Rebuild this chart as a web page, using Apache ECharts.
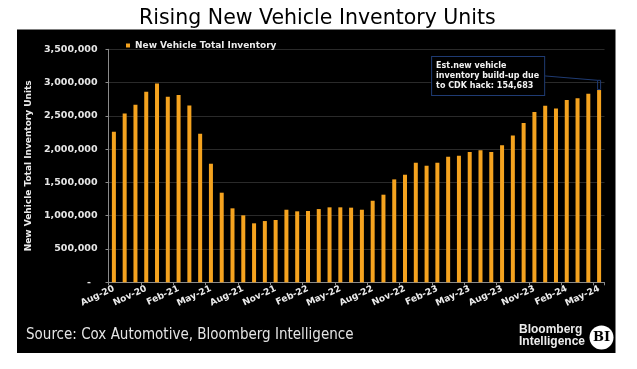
<!DOCTYPE html>
<html>
<head>
<meta charset="utf-8">
<script src="https://cdn.jsdelivr.net/npm/echarts@6/dist/echarts.min.js"></script>
<style>html,body{margin:0;padding:0;background:#fff;}#c{width:637px;height:369px;}</style>
</head>
<body>
<div id="c"></div>
<script>
var categories = ['Aug-20','Sep-20','Oct-20','Nov-20','Dec-20','Jan-21','Feb-21','Mar-21','Apr-21','May-21','Jun-21','Jul-21',
  'Aug-21','Sep-21','Oct-21','Nov-21','Dec-21','Jan-22','Feb-22','Mar-22','Apr-22','May-22','Jun-22','Jul-22',
  'Aug-22','Sep-22','Oct-22','Nov-22','Dec-22','Jan-23','Feb-23','Mar-23','Apr-23','May-23','Jun-23','Jul-23',
  'Aug-23','Sep-23','Oct-23','Nov-23','Dec-23','Jan-24','Feb-24','Mar-24','Apr-24','May-24'];
var inventory = [2261000,2537000,2667000,2862000,2988000,2787000,2812000,2657000,2232000,1781000,1346000,1111000,
  1006000,886000,920000,936000,1090000,1066000,1071000,1100000,1126000,1126000,1121000,1090000,
  1225000,1316000,1546000,1616000,1796000,1751000,1796000,1886000,1901000,1957000,1982000,1957000,
  2057000,2207000,2392000,2557000,2652000,2612000,2737000,2763000,2832000,2887000];
var buildUpValue = 154683;
var buildUp = categories.map(function (c, i) { return i === categories.length - 1 ? buildUpValue : null; });
var yTicks = { min: 0, max: 3500000, interval: 500000 };

var bold = 'bold';
var chart = echarts.init(document.getElementById('c'), null, { renderer: 'canvas' });
chart.setOption({
  backgroundColor: '#fff',
  animation: false,
  title: {
    text: 'Rising New Vehicle Inventory Units',
    left: 134, top: 3,
    textStyle: { fontFamily: 'DejaVu Sans', fontWeight: 'normal', fontSize: 20.5, color: '#000' }
  },
  graphic: [
    { type: 'rect', z: -10, silent: true, shape: { x: 17, y: 29.5, width: 598.5, height: 323.5 }, style: { fill: '#000' } },
    { type: 'text', left: 26, top: 328, style: { text: 'Source: Cox Automotive, Bloomberg Intelligence', fill: '#e4e4e4', font: '15px "DejaVu Sans Condensed"' } },
    { type: 'text', left: 519, top: 324, style: { text: 'Bloomberg', fill: '#ececec', font: 'bold 12px "Liberation Sans"' } },
    { type: 'text', left: 519, top: 336, style: { text: 'Intelligence', fill: '#ececec', font: 'bold 12px "Liberation Sans"' } },
    { type: 'circle', shape: { cx: 601.5, cy: 337.5, r: 12 }, style: { fill: '#fff' } },
    { type: 'text', x: 601.5, y: 338, style: { text: 'BI', fill: '#000', font: 'bold 13px "DejaVu Serif"', align: 'center', verticalAlign: 'middle' } }
  ],
  legend: {
    data: ['New Vehicle Total Inventory'],
    left: 121, top: 36,
    icon: 'rect', itemWidth: 4, itemHeight: 4,
    textStyle: { color: '#ececec', fontFamily: 'DejaVu Sans', fontWeight: bold, fontSize: 9 }
  },
  grid: { left: 108.5, right: 32.5, top: 49.3, bottom: 86.7, containLabel: false },
  xAxis: {
    type: 'category',
    data: categories,
    axisLine: { lineStyle: { color: '#8a8a8a', width: 1 } },
    axisTick: { show: true, interval: 2, length: 3, lineStyle: { color: '#8a8a8a' } },
    axisLabel: { interval: 2, rotate: 25, margin: 6, color: '#ececec', fontFamily: 'DejaVu Sans', fontWeight: bold, fontSize: 9 },
    splitLine: { show: false }
  },
  yAxis: {
    type: 'value',
    min: yTicks.min, max: yTicks.max, interval: yTicks.interval,
    name: 'New Vehicle Total Inventory Units',
    nameLocation: 'middle', nameGap: 69,
    nameTextStyle: { color: '#ececec', fontFamily: 'DejaVu Sans', fontWeight: bold, fontSize: 9 },
    axisLine: { show: true, lineStyle: { color: '#8a8a8a', width: 1 } },
    axisTick: { show: true, length: 3, lineStyle: { color: '#8a8a8a' } },
    axisLabel: {
      margin: 11, color: '#e6e6e6', fontFamily: 'DejaVu Sans', fontWeight: bold, fontSize: 9.5,
      formatter: function (v) { return v === 0 ? '-  ' : v.toLocaleString('en-US'); }
    },
    splitLine: { show: true, lineStyle: { color: '#2a2a2a', width: 1 } }
  },
  series: [
    {
      name: 'New Vehicle Total Inventory',
      type: 'bar', stack: 'inv',
      data: inventory,
      barWidth: 4,
      itemStyle: { color: '#f5a31f' }
    },
    {
      name: 'CDK build-up',
      type: 'bar', stack: 'inv',
      data: buildUp,
      barWidth: 4,
      itemStyle: { color: 'rgba(0,0,0,0)', borderColor: '#1f3b73', borderWidth: 1 },
      label: {
        show: true, position: 'left', distance: 5,
        formatter: 'Est.new vehicle\ninventory build-up due\nto CDK hack: ' + buildUpValue.toLocaleString('en-US'),
        color: '#f2f2f2', fontFamily: 'DejaVu Sans', fontWeight: bold, fontSize: 8, lineHeight: 9.7,
        align: 'left', backgroundColor: '#000', borderColor: '#1f3b73', borderWidth: 1,
        padding: [1, 5, 8, 4]
      },
      labelLayout: { dx: -160, dy: -9 },
      labelLine: { show: true, lineStyle: { color: '#1f3b73', width: 1 } }
    }
  ]
});
</script>
</body>
</html>
